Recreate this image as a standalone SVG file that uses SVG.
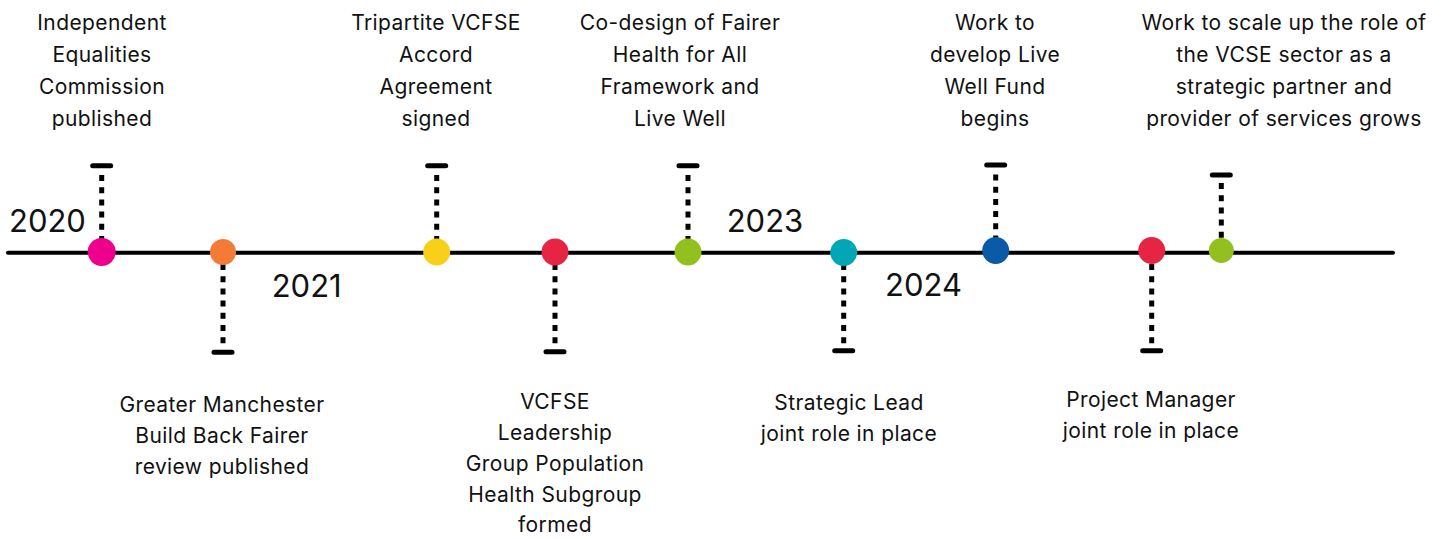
<svg xmlns="http://www.w3.org/2000/svg" width="1445" height="539" viewBox="0 0 1445 539">
<style>
.lbl{font-family:Inter,"Noto Sans",sans-serif;font-size:21px;letter-spacing:0.4px;fill:#111;text-anchor:middle}
.yr{font-family:Inter,"Noto Sans",sans-serif;font-size:31px;fill:#111}
.stem{stroke:#000;stroke-width:5;stroke-dasharray:6 6.2;fill:none}
.cap{stroke:#000;stroke-width:5;stroke-linecap:round}
.axis{stroke:#000;stroke-width:4;stroke-linecap:round}
</style>
<rect width="1445" height="539" fill="#fff"/>
<g id="connectors">
<line class="axis" x1="8" y1="252.7" x2="1393" y2="252.7"/>
<line class="stem" x1="101.7" y1="175" x2="101.7" y2="240"/>
<line class="cap" x1="92.7" y1="165.7" x2="110.7" y2="165.7"/>
<line class="stem" x1="223" y1="264" x2="223" y2="346"/>
<line class="cap" x1="214" y1="352.3" x2="232" y2="352.3"/>
<line class="stem" x1="436.7" y1="175" x2="436.7" y2="240"/>
<line class="cap" x1="427.7" y1="165.7" x2="445.7" y2="165.7"/>
<line class="stem" x1="555" y1="264" x2="555" y2="346"/>
<line class="cap" x1="546" y1="351.7" x2="564" y2="351.7"/>
<line class="stem" x1="688" y1="175" x2="688" y2="240"/>
<line class="cap" x1="679" y1="165.7" x2="697" y2="165.7"/>
<line class="stem" x1="843.7" y1="264" x2="843.7" y2="345"/>
<line class="cap" x1="834.7" y1="350.7" x2="852.7" y2="350.7"/>
<line class="stem" x1="995.7" y1="174.5" x2="995.7" y2="238"/>
<line class="cap" x1="986.7" y1="165" x2="1004.7" y2="165"/>
<line class="stem" x1="1151.7" y1="264" x2="1151.7" y2="345"/>
<line class="cap" x1="1142.7" y1="350.7" x2="1160.7" y2="350.7"/>
<line class="stem" x1="1221.3" y1="183" x2="1221.3" y2="239"/>
<line class="cap" x1="1212.3" y1="175" x2="1230.3" y2="175"/>
</g>
<g id="years">
<text class="yr" x="9" y="231.5">2020</text>
<text class="yr" x="271.7" y="296.5">2021</text>
<text class="yr" x="726.7" y="231.5">2023</text>
<text class="yr" x="885" y="296">2024</text>
</g>
<g id="n1">
<circle cx="101.7" cy="252" r="14" fill="#EC008C"/>
<text class="lbl" x="102" y="30">Independent<tspan x="102" dy="32">Equalities</tspan><tspan x="102" dy="32">Commission</tspan><tspan x="102" dy="31.5">published</tspan></text>
</g>
<g id="n2">
<circle cx="223" cy="252" r="13" fill="#F47B35"/>
<text class="lbl" x="222" y="411.5">Greater Manchester<tspan x="222" dy="31">Build Back Fairer</tspan><tspan x="222" dy="31">review published</tspan></text>
</g>
<g id="n3">
<circle cx="436.7" cy="252" r="13.5" fill="#F8D01A"/>
<text class="lbl" x="436" y="30">Tripartite VCFSE<tspan x="436" dy="32">Accord</tspan><tspan x="436" dy="32">Agreement</tspan><tspan x="436" dy="31.5">signed</tspan></text>
</g>
<g id="n4">
<circle cx="555" cy="252" r="13.5" fill="#E52543"/>
<text class="lbl" x="555" y="408.5">VCFSE<tspan x="555" dy="31">Leadership</tspan><tspan x="555" dy="31">Group Population</tspan><tspan x="555" dy="31">Health Subgroup</tspan><tspan x="555" dy="30.5">formed</tspan></text>
</g>
<g id="n5">
<circle cx="688" cy="252" r="13.5" fill="#93C01F"/>
<text class="lbl" x="680" y="30">Co-design of Fairer<tspan x="680" dy="32">Health for All</tspan><tspan x="680" dy="32">Framework and</tspan><tspan x="680" dy="31.5">Live Well</tspan></text>
</g>
<g id="n6">
<circle cx="843.7" cy="252.5" r="13.5" fill="#00A8B5"/>
<text class="lbl" x="849" y="410">Strategic Lead<tspan x="849" dy="31">joint role in place</tspan></text>
</g>
<g id="n7">
<circle cx="995.7" cy="250.5" r="13.5" fill="#0A5AA8"/>
<text class="lbl" x="995" y="30">Work to<tspan x="995" dy="32">develop Live</tspan><tspan x="995" dy="32">Well Fund</tspan><tspan x="995" dy="31.5">begins</tspan></text>
</g>
<g id="n8">
<circle cx="1151.7" cy="250.5" r="13.5" fill="#E52543"/>
<text class="lbl" x="1151" y="407">Project Manager<tspan x="1151" dy="31">joint role in place</tspan></text>
</g>
<g id="n9">
<circle cx="1221.3" cy="250.5" r="12.5" fill="#93C01F"/>
<text class="lbl" x="1284" y="30">Work to scale up the role of<tspan x="1284" dy="32">the VCSE sector as a</tspan><tspan x="1284" dy="32">strategic partner and</tspan><tspan x="1284" dy="31.5">provider of services grows</tspan></text>
</g>
</svg>
